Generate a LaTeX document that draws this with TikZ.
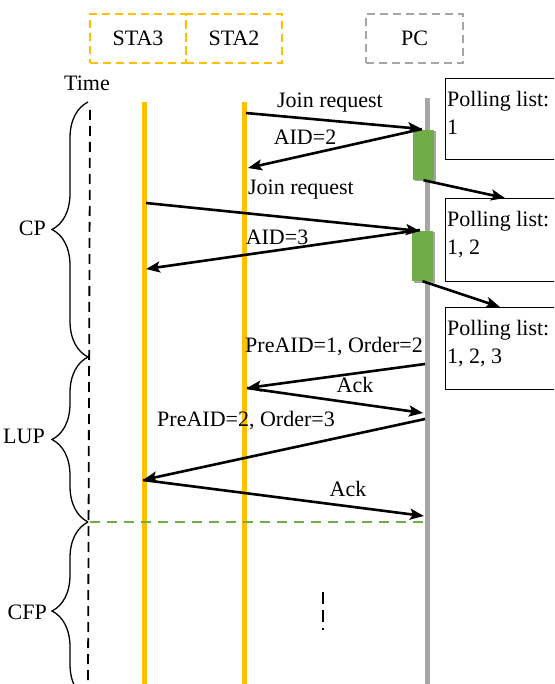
\documentclass[tikz,border=0pt]{standalone}
\usepackage{fontspec}
\setmainfont{Liberation Serif}
\usetikzlibrary{arrows.meta}
\usetikzlibrary{decorations.pathreplacing}
\usetikzlibrary{shadows}
\definecolor{staorange}{HTML}{FFC000}
\definecolor{pcgray}{HTML}{A6A6A6}
\definecolor{actgreen}{HTML}{70AD47}
\tikzset{
    msg/.style={line width=2.6pt, -{Stealth[length=14pt,width=11pt,inset=3pt]}},
    lbl/.style={font=\fontsize{22}{28}\selectfont, inner sep=0pt},
    stabox/.style={draw=staorange, line width=1.8pt, dash pattern=on 8pt off 5pt, minimum width=96pt, minimum height=49pt, inner sep=0pt},
    pcbox/.style={draw=pcgray, line width=1.8pt, dash pattern=on 8pt off 5pt, minimum width=97pt, minimum height=49pt, inner sep=0pt},
    staline/.style={staorange, line width=5pt},
    pcline/.style={pcgray, line width=5pt},
    actbox/.style={fill=actgreen, minimum width=21pt, minimum height=50pt, inner sep=0pt, drop shadow={shadow xshift=1.5pt, shadow yshift=-1.5pt, fill=pcgray, opacity=1}},
    pollbox/.style={draw, line width=1.3pt, anchor=north west, minimum width=130pt, inner sep=0pt},
    period/.style={decorate, decoration={brace, amplitude=36pt}, line width=1.3pt},
}
\begin{document}
\begin{tikzpicture}[x=1pt, y=-1pt]
    \useasboundingbox (0,0) rectangle (554,684);
    \clip (0,0) rectangle (554,684);
    % header
    \node[stabox, lbl] (sta3) at (138,38.5) {STA3};
    \node[stabox, lbl] (sta2) at (234,38.5) {STA2};
    \node[pcbox, lbl] (pc) at (414.5,38.5) {PC};
    \node[lbl] (time) at (87,83) {Time};
    % lifelines
    \draw[line width=1.8pt, dash pattern=on 10pt off 6pt] (90,110) -- (88,684);
    \draw[staline] (144,102) -- (144,684);
    \draw[staline] (244,102) -- (244,684);
    \draw[pcline] (427,98) -- (427,684);
    \draw[actgreen, line width=1.8pt, dash pattern=on 10pt off 7pt] (90,522) -- (427,522);
    \draw[line width=1.3pt, dash pattern=on 12pt off 6pt] (323,592) -- (323,630);
    % periods
    \draw[period] (88,357) -- (88,102);
    \draw[period] (88,522) -- (88,357);
    \draw[period] (88,700) -- (88,522);
    \node[lbl, anchor=east] (cp) at (46,228) {CP};
    \node[lbl, anchor=east] (lup) at (45,436) {LUP};
    \node[lbl, anchor=east] (cfp) at (47,612) {CFP};
    % activity
    \node[actbox] (act1) at (423.5,155) {};
    \node[actbox] (act2) at (422.5,256) {};
    % polling lists
    \node[pollbox, minimum height=81pt] (pl1) at (445,78) {};
    \node[pollbox, minimum height=83pt] (pl2) at (445,198) {};
    \node[pollbox, minimum height=82pt] (pl3) at (445,307) {};
    \node[lbl, anchor=north west, align=left] (pt1) at ([xshift=2pt,yshift=-13pt]pl1.north west) {Polling list:\\1};
    \node[lbl, anchor=north west, align=left] (pt2) at ([xshift=2pt,yshift=-13pt]pl2.north west) {Polling list:\\1, 2};
    \node[lbl, anchor=north west, align=left] (pt3) at ([xshift=2pt,yshift=-13pt]pl3.north west) {Polling list:\\1, 2, 3};
    % message points
    \coordinate (jr1a) at (246,113);
    \coordinate (jr1b) at (422,129);
    \coordinate (aid2) at (248,168);
    \coordinate (jr2a) at (146,203);
    \coordinate (jr2b) at (420,231);
    \coordinate (aid3) at (146,269);
    \coordinate (pa1a) at (425,364);
    \coordinate (pa1b) at (247,388);
    \coordinate (ack1) at (423,413);
    \coordinate (pa2a) at (425,419);
    \coordinate (pa2b) at (143,480);
    \coordinate (ack2) at (424,516);
    % messages
    \draw[msg] (jr1a) -- (jr1b);
    \draw[msg] (jr1b) -- (aid2);
    \draw[msg] (act1.south) -- ([xshift=60pt]pl2.north west);
    \draw[msg] (jr2a) -- (jr2b);
    \draw[msg] ([yshift=1pt]jr2b) -- (aid3);
    \draw[msg] (act2.south) -- ([xshift=55pt]pl3.north west);
    \draw[msg] (pa1a) -- (pa1b);
    \draw[msg] (pa1b) -- (ack1);
    \draw[msg] (pa2a) -- (pa2b);
    \draw[msg] (pa2b) -- (ack2);
    % labels
    \node[lbl] (l1) at (330,103) {Join request};
    \node[lbl] (l2) at (305,137) {AID=2};
    \node[lbl] (l3) at (301,190) {Join request};
    \node[lbl] (l4) at (277,237) {AID=3};
    \node[lbl] (l5) at (334,347) {PreAID=1, Order=2};
    \node[lbl] (l6) at (355,385) {Ack};
    \node[lbl] (l7) at (246,421) {PreAID=2, Order=3};
    \node[lbl] (l8) at (348,489) {Ack};
\end{tikzpicture}
\end{document}
